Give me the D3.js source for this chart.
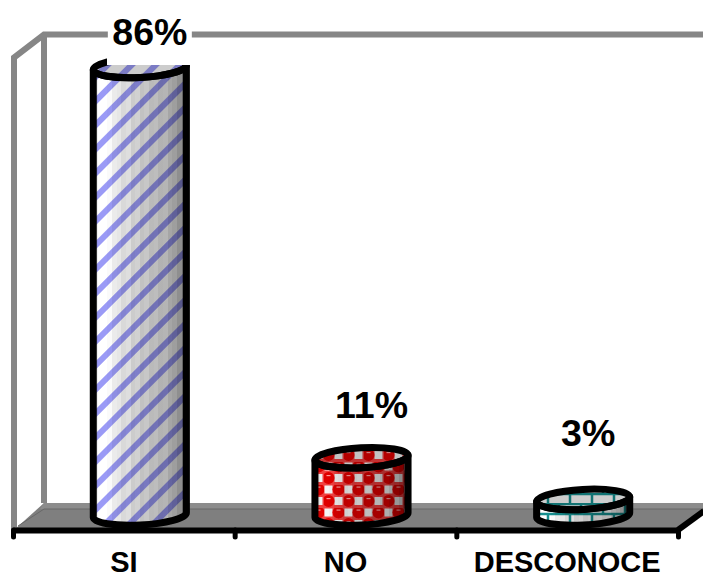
<!DOCTYPE html>
<html>
<head>
<meta charset="utf-8">
<script src="https://cdn.jsdelivr.net/npm/d3@7"></script>
<style>
  html, body { margin: 0; background: #fff; }
  svg { display: block; }
  text { font-family: "Liberation Sans", Arial, sans-serif; font-weight: bold; fill: #000; }
</style>
</head>
<body>
<svg id="chart" width="703" height="576"></svg>
<script>
const categories = ["SI", "NO", "DESCONOCE"]
const percents = [86, 11, 3]
const percentLabels = ["86%", "11%", "3%"]

const width = 703, height = 576
const floorFront = 530, floorBack = 503, wallTop = 34.5
const left = 14, right = 678, depth = 30
const svg = d3.select("#chart")
const defs = svg.append("defs")

const x = d3.scaleBand().domain(categories).range([13, right])
const y = d3.scaleLinear().domain([0, 86]).range([515, 67.5])
const rx = x.bandwidth() * 0.21, ry = 10, tilt = -3
const dy = rx * Math.sin(-tilt * Math.PI / 180)
const cx = d => x(d) + x.bandwidth() / 2 + 16

// the fills in the original are a bit soft
defs.append("filter").attr("id", "soft")
  .append("feGaussianBlur").attr("stdDeviation", .6)

// shading across the cylinder, in narrow flat facets
const shadeLevels = [.06, 0, 0, .02, .08, .1, .15, .13, .2, .18, .24, .22, .27, .26, .3, .29, .35, .38, .44, .55]
const shade = defs.append("linearGradient").attr("id", "shade")
shadeLevels.forEach((o, i) => {
  const n = shadeLevels.length
  shade.append("stop").attr("offset", i / n).attr("stop-color", "#000").attr("stop-opacity", o)
  shade.append("stop").attr("offset", (i + 1) / n).attr("stop-color", "#000").attr("stop-opacity", o)
})

// diagonal stripes for SI
const stripes = defs.append("pattern").attr("id", "stripes")
  .attr("patternUnits", "userSpaceOnUse")
  .attr("width", 17).attr("height", 17)
  .attr("patternTransform", "rotate(-45)")
stripes.append("rect").attr("width", 17).attr("height", 17).attr("fill", "#fff")
stripes.append("rect").attr("width", 17).attr("height", 6).attr("fill", "#9a9af6")

// red checks for NO
const checks = defs.append("pattern").attr("id", "checks")
  .attr("patternUnits", "userSpaceOnUse")
  .attr("width", 20).attr("height", 23)
  .attr("patternTransform", "translate(4,2)")
checks.append("rect").attr("width", 20).attr("height", 23).attr("fill", "#f04040")
checks.selectAll("rect.sq").data([[.5, .5], [10.5, 12]]).enter().append("rect")
  .attr("class", "sq")
  .attr("x", d => d[0]).attr("y", d => d[1])
  .attr("width", 8).attr("height", 8).attr("fill", "#f4f4f4")
checks.selectAll("circle").data([[14.5, 4.5], [4.5, 16]]).enter().append("circle")
  .attr("cx", d => d[0]).attr("cy", d => d[1])
  .attr("r", 6).attr("fill", "#e00000")
checks.selectAll("rect.hi").data([[12.5, 1.5], [2.5, 13]]).enter().append("rect")
  .attr("class", "hi")
  .attr("x", d => d[0]).attr("y", d => d[1])
  .attr("width", 4).attr("height", 1.2).attr("fill", "#ff9a9a")

// teal bricks for DESCONOCE
const bricks = defs.append("pattern").attr("id", "bricks")
  .attr("patternUnits", "userSpaceOnUse")
  .attr("width", 22).attr("height", 20)
  .attr("patternTransform", "translate(3,3)")
bricks.append("rect").attr("width", 22).attr("height", 20).attr("fill", "#fff")
bricks.append("path")
  .attr("d", "M0 1H22M0 11H22M6 1V11M17 11V20")
  .attr("stroke", "#159090").attr("stroke-width", 2.5).attr("fill", "none")

const fills = d3.scaleOrdinal().domain(categories).range(["stripes", "checks", "bricks"])

// SI is cut by the top of the plot, except a bit of rim on its left
const clip = defs.append("clipPath").attr("id", "plotClip")
clip.append("rect").attr("x", 0).attr("y", 65).attr("width", width).attr("height", height)
const clipRim = defs.append("clipPath").attr("id", "rimClip")
clipRim.append("rect").attr("x", 0).attr("y", 65).attr("width", width).attr("height", height)
clipRim.append("rect").attr("x", 0).attr("y", 0).attr("width", 107).attr("height", height)

// walls and floor
const wallColor = "#868686"
svg.append("path")
  .attr("d", `M${left} ${floorFront}L${left + depth} ${floorBack}H${width}V${floorBack + 9}L${right} ${floorFront}Z`)
  .attr("fill", "#7f7f7f")
svg.append("path")
  .attr("d", `M${left + depth} ${floorBack}H${width}V${floorBack + 6}H${left + depth - 4}Z`)
  .attr("fill", "#8c8c8c")
svg.append("path")
  .attr("d", `M${left + 4} ${floorFront - 4}L${left + depth} ${floorBack + 6}H${width}`)
  .attr("fill", "none").attr("stroke", "#686868").attr("stroke-width", 1)
svg.append("path")
  .attr("d", `M${left} ${floorFront}V${wallTop + 23}L${left + depth} ${wallTop}H${width}M${left + depth} ${wallTop}V${floorBack}`)
  .attr("fill", "none").attr("stroke", wallColor).attr("stroke-width", 6)

// axis: ticks on band edges, labels in band centres
const edges = d3.scaleLinear().domain([0, 3]).range([13, right])
const tickAxis = svg.append("g")
  .attr("transform", `translate(0,${floorFront})`)
  .call(d3.axisBottom(edges).ticks(3).tickSize(7).tickSizeOuter(0).tickFormat(""))
tickAxis.selectAll(".domain").attr("stroke", "#000").attr("stroke-width", 6)
tickAxis.selectAll(".tick line").attr("stroke", "#000").attr("stroke-width", 5).attr("stroke-linecap", "round")
svg.append("path")
  .attr("d", `M${right} ${floorFront}L${width + 1} ${floorFront - 19}`)
  .attr("fill", "none").attr("stroke", "#000").attr("stroke-width", 6)

const labelAxis = svg.append("g")
  .attr("transform", `translate(0,${floorFront})`)
  .call(d3.axisBottom(x).tickSize(0).tickPadding(21))
labelAxis.select(".domain").remove()
labelAxis.selectAll("text").attr("font-size", 29)
  .style("font-family", '"Liberation Sans", Arial, sans-serif')
  .style("font-weight", "bold").attr("fill", "#000")

// cylinders
const topEllipse = (d) => {
  const c = cx(d), t = y(percents[categories.indexOf(d)])
  return `M${c - rx} ${t + dy}A${rx} ${ry} ${tilt} 1 1 ${c + rx} ${t - dy}A${rx} ${ry} ${tilt} 1 1 ${c - rx} ${t + dy}Z`
}
const body = (d) => {
  const c = cx(d), t = y(percents[categories.indexOf(d)]), b = y(0)
  return `M${c - rx} ${t + dy}L${c - rx} ${b + dy}A${rx} ${ry} ${tilt} 0 0 ${c + rx} ${b - dy}L${c + rx} ${t - dy}A${rx} ${ry} ${tilt} 0 1 ${c - rx} ${t + dy}Z`
}

const cyl = svg.selectAll("g.cyl").data(categories).enter().append("g").attr("class", "cyl")
const fillGroup = cyl.append("g").attr("clip-path", "url(#plotClip)")
fillGroup.append("path").attr("d", body).attr("fill", d => `url(#${fills(d)})`).attr("filter", "url(#soft)")
fillGroup.append("path").attr("d", body).attr("fill", "url(#shade)")
fillGroup.append("path").attr("d", topEllipse).attr("fill", d => `url(#${fills(d)})`).attr("filter", "url(#soft)")
fillGroup.append("path").attr("d", topEllipse).attr("fill", "#000").attr("fill-opacity", .2)
const lineGroup = cyl.append("g").attr("clip-path", "url(#rimClip)")
  .attr("fill", "none").attr("stroke", "#000").attr("stroke-width", 7).attr("stroke-linejoin", "round")
lineGroup.append("path").attr("d", body)
lineGroup.append("path").attr("d", topEllipse)

// value labels
const labelShift = [[10, -22.5], [10, -40], [5, -53]]
const labels = svg.selectAll("g.val").data(percents).enter().append("g").attr("class", "val")
  .attr("transform", (d, i) => `translate(${cx(categories[i]) + labelShift[i][0]},${y(d) + labelShift[i][1]})`)
labels.filter((d, i) => i === 0).append("rect")
  .attr("x", -42).attr("y", -30).attr("width", 84).attr("height", 32).attr("fill", "#fff")
labels.append("text")
  .attr("text-anchor", "middle").attr("font-size", 37.5)
  .text((d, i) => percentLabels[i])
</script>
</body>
</html>
